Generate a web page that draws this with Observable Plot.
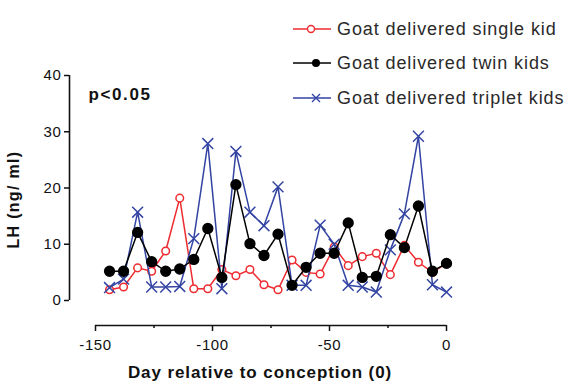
<!DOCTYPE html>
<html>
<head>
<meta charset="utf-8">
<script src="https://cdn.jsdelivr.net/npm/d3@7"></script>
<script src="https://cdn.jsdelivr.net/npm/@observablehq/plot@0.6"></script>
<style>
  html, body { margin: 0; padding: 0; background: #fff; }
  #chart { position: relative; width: 569px; height: 387px; font-family: "Liberation Sans", Arial, sans-serif; }
  #chart svg.plot { position: absolute; left: 0; top: 0; }
  .lg-row { position: absolute; left: 291px; height: 24px; display: flex; align-items: center; }
  .lg-row span { font-size: 18px; color: #2a2a2a; margin-left: 4px; white-space: nowrap; letter-spacing: 0.9px; }
</style>
</head>
<body>
<div id="chart"></div>
<script>
// ---- data ----
const days = [-144, -138, -132, -126, -120, -114, -108, -102, -96, -90, -84, -78, -72, -66, -60, -54, -48, -42, -36, -30, -24, -18, -12, -6, 0];
const single  = [1.9, 2.4, 5.8, 5.2, 8.8, 18.2, 2.1, 2.1, 5.5, 4.4, 5.5, 2.8, 1.9, 7.2, 5.0, 4.7, 9.5, 6.2, 7.8, 8.4, 4.6, 9.8, 6.8, 5.0, 6.6];
const twin    = [5.2, 5.2, 12.1, 6.9, 5.2, 5.6, 7.3, 12.8, 4.1, 20.6, 10.1, 8.0, 11.8, 2.7, 5.9, 8.4, 8.4, 13.8, 4.1, 4.3, 11.7, 9.4, 16.8, 5.2, 6.6];
const triplet = [2.3, 3.8, 15.7, 2.4, 2.4, 2.5, 11.0, 27.9, 2.1, 26.5, 15.7, 13.3, 20.2, 2.7, 2.7, 13.4, 10.0, 2.7, 2.4, 1.5, 9.0, 15.4, 29.2, 2.8, 1.5];
const seriesNames = ["Goat delivered single kid", "Goat delivered twin kids", "Goat delivered triplet kids"];
const xTicks = [-150, -100, -50, 0];
const xMinorTicks = [-125, -75, -25];
const yTicks = [0, 10, 20, 30, 40];
const yLabel = "LH (ng/ ml)";
const xLabel = "Day relative to conception (0)";
const note = "p<0.05";

const RED = "#ee2b30", BLACK = "#000", BLUE = "#3344a3";

const rows = days.map((d, i) => ({day: d, single: single[i], twin: twin[i], triplet: triplet[i]}));

const plot = Plot.plot({
  width: 569,
  height: 387,
  marginLeft: 95,
  marginRight: 123,
  marginTop: 75,
  marginBottom: 87,
  x: {type: "linear", domain: [xTicks[0], xTicks[xTicks.length - 1]]},
  y: {type: "linear", domain: [yTicks[0], yTicks[yTicks.length - 1]]},
  style: {fontFamily: "'Liberation Sans', Arial, sans-serif", fontSize: "15px", color: "#111", background: "#fff", overflow: "visible"},
  marks: [
    // y axis (offset left)
    Plot.axisY({ticks: yTicks, dx: -26, tickSize: 5, tickPadding: 3, label: null, fontSize: 15, strokeWidth: 1.5}),
    Plot.ruleX([xTicks[0]], {y1: yTicks[0], y2: yTicks[yTicks.length - 1], dx: -26, strokeWidth: 1.6}),
    // x axis (offset down)
    Plot.axisX({ticks: xTicks, dy: 25, tickSize: 6, tickPadding: 8, label: null, tickFormat: d => String(d), fontSize: 15, strokeWidth: 1.5}),
    Plot.axisX({ticks: xMinorTicks, dy: 25, tickSize: 3, tickPadding: 0, label: null, tickFormat: () => "", strokeWidth: 1.5}),
    Plot.ruleY([yTicks[0]], {x1: xTicks[0], x2: xTicks[xTicks.length - 1], dy: 25, strokeWidth: 1.6}),
    // titles
    Plot.text([yLabel], {text: d => d, frameAnchor: "bottom-left", dx: -77, dy: -52, rotate: -90, textAnchor: "start", fontWeight: "bold", fontSize: 16}),
    Plot.text([xLabel], {text: d => d, frameAnchor: "bottom", dy: 77, dx: -11, fontWeight: "bold", fontSize: 17}),
    Plot.text([note], {text: d => d, frameAnchor: "top-left", dx: -7, dy: 12, textAnchor: "start", fontWeight: "bold", fontSize: 17}),
    // single
    Plot.line(rows, {x: "day", y: "single", stroke: RED, strokeWidth: 1.5}),
    Plot.dot(rows, {x: "day", y: "single", r: 3.8, stroke: RED, fill: "#fff", strokeWidth: 1.5}),
    // triplet
    Plot.line(rows, {x: "day", y: "triplet", stroke: BLUE, strokeWidth: 1.5}),
    Plot.dot(rows, {x: "day", y: "triplet", symbol: "times", r: 5, stroke: BLUE, strokeWidth: 1.5}),
    // twin
    Plot.line(rows, {x: "day", y: "twin", stroke: BLACK, strokeWidth: 1.5}),
    Plot.dot(rows, {x: "day", y: "twin", r: 4.9, fill: BLACK, stroke: BLACK})
  ]
});
plot.classList.add("plot");
const chart = document.getElementById("chart");
chart.appendChild(plot);

// letter spacing to mimic the wide bitmap-style font of the original
d3.select(plot).selectAll("text").each(function() {
  const t = this.textContent;
  let ls = null;
  if (t === xLabel) ls = 0.9;
  else if (t === yLabel) ls = 1.3;
  else if (t === note) ls = 1.6;
  else if (/^-?\d+$/.test(t)) ls = 0.6;
  if (ls != null) this.setAttribute("letter-spacing", ls);
});

// legend (HTML overlay, top-right)
const legendSpec = [
  {name: seriesNames[0], color: RED, kind: "circle", top: 17},
  {name: seriesNames[1], color: BLACK, kind: "dot", top: 51},
  {name: seriesNames[2], color: BLUE, kind: "times", top: 86}
];
for (const s of legendSpec) {
  const row = document.createElement("div");
  row.className = "lg-row";
  row.style.top = s.top + "px";
  let marker = "";
  if (s.kind === "circle") marker = `<circle cx="20" cy="12" r="3.5" fill="#fff" stroke="${s.color}" stroke-width="1.4"/>`;
  else if (s.kind === "dot") marker = `<circle cx="25" cy="12" r="4" fill="${s.color}"/>`;
  else marker = `<path d="M21,8L29,16M29,8L21,16" stroke="${s.color}" stroke-width="1.4"/>`;
  row.innerHTML = `<svg width="42" height="24"><line x1="2" x2="40" y1="12" y2="12" stroke="${s.color}" stroke-width="1.4"/>${marker}</svg><span>${s.name}</span>`;
  chart.appendChild(row);
}
</script>
</body>
</html>
